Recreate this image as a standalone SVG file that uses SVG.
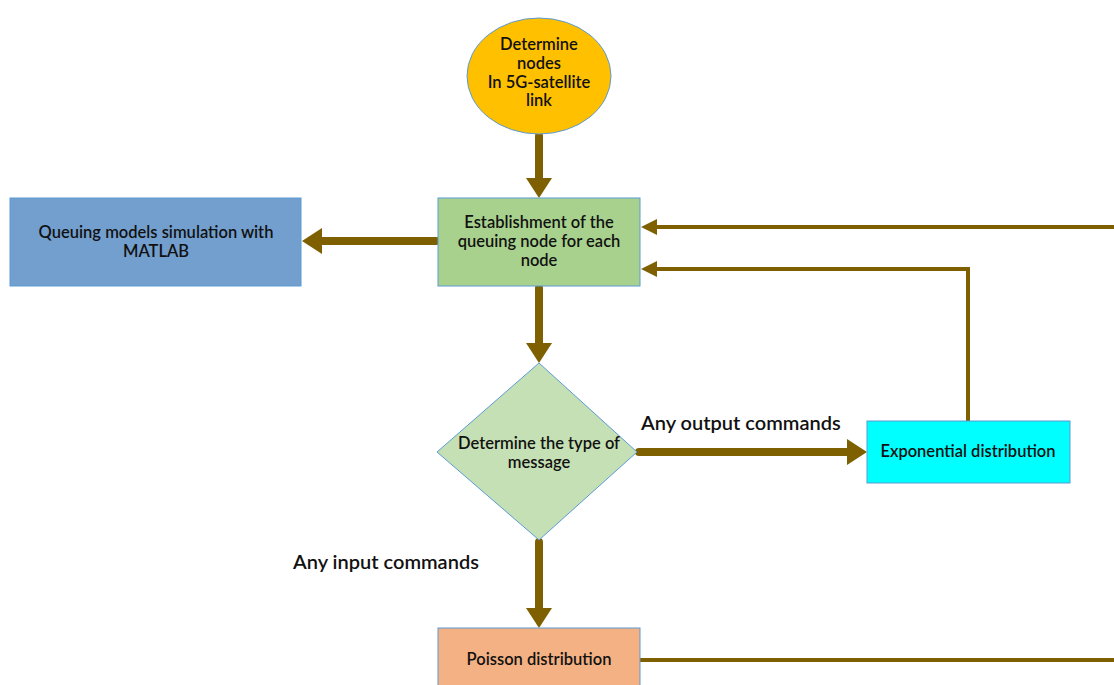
<svg xmlns="http://www.w3.org/2000/svg" width="1114" height="685" viewBox="0 0 1114 685">
<style>
.t{font-family:Lato,"Open Sans","Liberation Sans",sans-serif;font-size:16.5px;font-weight:600;fill:#111;text-anchor:middle}
.l{font-family:Lato,"Open Sans","Liberation Sans",sans-serif;font-size:20px;font-weight:600;fill:#111}
.k{fill:none;stroke:#7F6000;stroke-width:8;stroke-linecap:round}
.n{fill:none;stroke:#7F6000;stroke-width:4}
.b{stroke:#5B9BD5;stroke-width:1}
</style>
<defs>
<marker id="big" markerUnits="userSpaceOnUse" markerWidth="20" markerHeight="26" viewBox="0 0 20 26" refX="0" refY="13" orient="auto"><path d="M0,0 L20,13 L0,26 z" fill="#7F6000"/></marker>
<marker id="sm" markerUnits="userSpaceOnUse" markerWidth="16" markerHeight="16" viewBox="0 0 16 16" refX="0" refY="8" orient="auto"><path d="M0,0 L16,8 L0,16 z" fill="#7F6000"/></marker>
</defs>
<rect width="1114" height="685" fill="#fff"/>
<g id="connectors">
<path class="k" d="M539,136 L539,178" marker-end="url(#big)"/>
<path class="k" d="M436,241 L322,241" marker-end="url(#big)"/>
<path class="k" d="M539,288 L539,343" marker-end="url(#big)"/>
<path class="k" d="M639,452 L847,452" marker-end="url(#big)"/>
<path class="k" d="M539,542 L539,608" marker-end="url(#big)"/>
<path class="n" d="M968,421 L968,269 L657,269" marker-end="url(#sm)"/>
<path class="n" d="M1114,227 L657,227" marker-end="url(#sm)"/>
<path class="n" d="M640,660 L1114,660"/>
<text class="l" x="641" y="430">Any output commands</text>
<text class="l" x="293" y="569">Any input commands</text>
</g>
<g id="start">
<ellipse class="b" cx="539" cy="76" rx="72" ry="58" fill="#FFC000"/>
<text class="t" x="539" y="50">Determine</text>
<text class="t" x="539" y="69">nodes</text>
<text class="t" x="539" y="88">In 5G-satellite</text>
<text class="t" x="539" y="106">link</text>
</g>
<g id="establish">
<rect class="b" x="438" y="198" width="202" height="88" fill="#A9D18E"/>
<text class="t" x="539" y="228">Establishment of the</text>
<text class="t" x="539" y="247">queuing node for each</text>
<text class="t" x="539" y="266">node</text>
</g>
<g id="matlab">
<rect class="b" x="10" y="198" width="291" height="88" fill="#739FCE"/>
<text class="t" x="156" y="238">Queuing models simulation with</text>
<text class="t" x="156" y="257">MATLAB</text>
</g>
<g id="decision">
<polygon class="b" points="539,363 637,452 539,540 437,452" fill="#C5E0B4"/>
<text class="t" x="539" y="449">Determine the type of</text>
<text class="t" x="539" y="468">message</text>
</g>
<g id="exponential">
<rect class="b" x="867" y="421" width="203" height="62" fill="#00FFFF"/>
<text class="t" x="968" y="457">Exponential distribution</text>
</g>
<g id="poisson">
<rect class="b" x="438" y="628" width="202" height="60" fill="#F4B183"/>
<text class="t" x="539" y="665">Poisson distribution</text>
</g>
</svg>
